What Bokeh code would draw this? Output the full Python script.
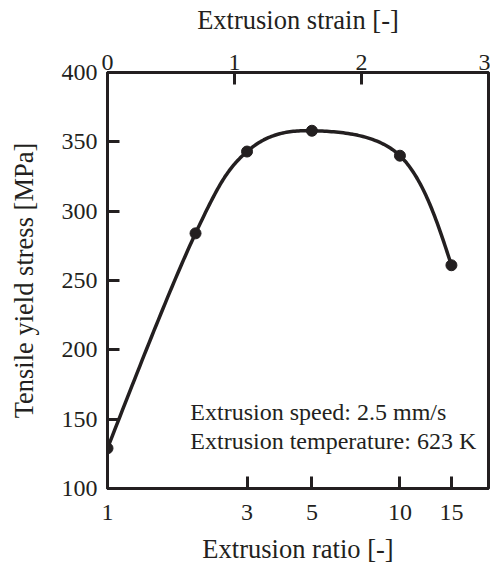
import numpy as np
from bokeh.plotting import figure
from bokeh.models import (Range1d, LinearScale, LinearAxis, LogAxis, FixedTicker,
                          CustomJSTickFormatter, Label, ColumnDataSource)
from bokeh.embed import file_html
from bokeh.resources import INLINE

# ---- data ----
ratio = [1, 2, 3, 5, 10, 15]
stress = [129, 284, 343, 358, 340, 261]
ratio_ticks = [1, 3, 5, 10, 15]
strain_ticks = [0, 1, 2, 3]
stress_ticks = [100, 150, 200, 250, 300, 350, 400]
notes = ["Extrusion speed: 2.5 mm/s", "Extrusion temperature: 623 K"]

INK = "#231f20"
FONT = "Liberation Serif"

W, H = 490, 566
BL, BR, BT, BB = 107, 2, 72, 77
frame_w, frame_h = W - BL - BR, H - BT - BB

x_end = float(np.exp(strain_ticks[-1]))
y0, y1 = stress_ticks[0], stress_ticks[-1]

# smooth (Catmull-Rom) curve through the measured points, built in screen-proportional space
px = np.log10(np.array(ratio, float)) / np.log10(x_end) * frame_w
py = (np.array(stress, float) - y0) / (y1 - y0) * frame_h
P = np.column_stack([px, py])
n = len(P)
m = np.zeros_like(P)
for i in range(1, n - 1):
    m[i] = (P[i + 1] - P[i - 1]) / 2
m[0] = (3 * (P[1] - P[0]) - m[1]) / 2
m[-1] = (3 * (P[-1] - P[-2]) - m[-2]) / 2
pts = []
t = np.linspace(0, 1, 40)[:, None]
h00 = 2 * t**3 - 3 * t**2 + 1
h10 = t**3 - 2 * t**2 + t
h01 = -2 * t**3 + 3 * t**2
h11 = t**3 - t**2
for i in range(n - 1):
    pts.append(h00 * P[i] + h10 * m[i] + h01 * P[i + 1] + h11 * m[i + 1])
pts = np.vstack(pts)
cx = 10 ** (pts[:, 0] / frame_w * np.log10(x_end))
cy = y0 + pts[:, 1] / frame_h * (y1 - y0)
curve = ColumnDataSource(dict(x=cx, y=cy))

p = figure(width=W, height=H, x_axis_type="log", x_axis_location=None,
           y_axis_location=None,
           x_range=Range1d(1, x_end), y_range=Range1d(y0, y1),
           output_backend="svg", toolbar_location=None,
           min_border_left=BL, min_border_right=BR, min_border_top=BT, min_border_bottom=BB)
p.extra_x_ranges = {"strain": Range1d(strain_ticks[0], strain_ticks[-1])}
p.extra_x_scales = {"strain": LinearScale()}
p.grid.visible = False
p.outline_line_color = INK
p.outline_line_width = 3
p.background_fill_color = "white"
p.border_fill_color = "white"


def style(ax, title_size="26.5px", label_size="24px"):
    ax.axis_line_color = INK
    ax.axis_line_width = 3
    ax.major_tick_line_color = INK
    ax.major_tick_line_width = 3
    ax.major_tick_in = 12
    ax.major_tick_out = 0
    ax.minor_tick_line_color = None
    ax.major_label_text_font = FONT
    ax.major_label_text_font_size = label_size
    ax.major_label_text_color = INK
    ax.axis_label_text_font = FONT
    ax.axis_label_text_font_size = title_size
    ax.axis_label_text_font_style = "normal"
    ax.axis_label_text_color = INK


fmt = "return String(Math.round(tick));"

bottom = LogAxis(ticker=FixedTicker(ticks=ratio_ticks),
                 formatter=CustomJSTickFormatter(code=fmt),
                 axis_label="Extrusion ratio [-]")
style(bottom)
bottom.major_label_standoff = 16
bottom.axis_label_standoff = 11
p.add_layout(bottom, "below")

top = LinearAxis(x_range_name="strain", ticker=FixedTicker(ticks=strain_ticks),
                 formatter=CustomJSTickFormatter(code=fmt),
                 axis_label="Extrusion strain [-]")
style(top)
top.major_label_standoff = 3
top.axis_label_standoff = 17
p.add_layout(top, "above")

left = LinearAxis(ticker=FixedTicker(ticks=stress_ticks),
                  formatter=CustomJSTickFormatter(code=fmt),
                  axis_label="Tensile yield stress [MPa]")
style(left)
left.major_label_standoff = 10
left.axis_label_standoff = 20
p.add_layout(left, "left")

p.line("x", "y", source=curve, line_color=INK, line_width=3.5)
p.scatter(ratio, stress, size=11, color=INK)

note_x = 1.92
note_y = [155, 134.5]
for txt, yy in zip(notes, note_y):
    p.add_layout(Label(x=note_x, y=yy, text=txt, text_font=FONT, text_font_size="24px",
                       text_color=INK, text_baseline="alphabetic"))

open("out.html", "w").write(file_html(p, INLINE))
